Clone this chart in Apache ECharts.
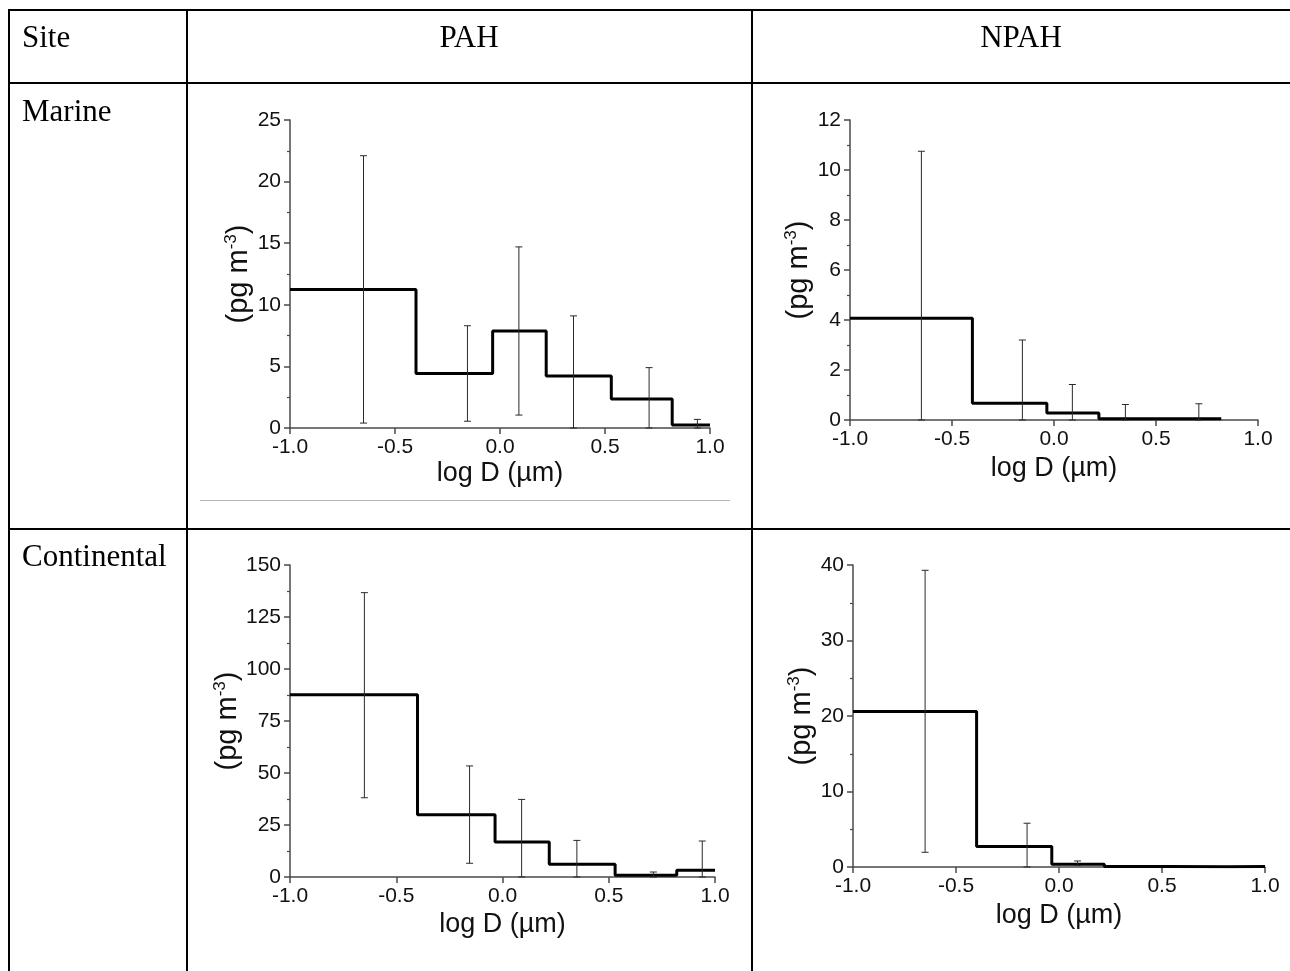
<!DOCTYPE html>
<html>
<head>
<meta charset="utf-8">
<script src="https://cdn.jsdelivr.net/npm/echarts@6/dist/echarts.min.js"></script>
<style>
html,body{margin:0;padding:0;background:#fff;}
#c{width:1290px;height:971px;}
</style>
</head>
<body>
<div id="c"></div>
<script>
// ---- data ----
const binEdges = [-1.0, -0.4, -0.035, 0.22, 0.53, 0.82, 1.0];
const errorBarX = [-0.65, -0.155, 0.09, 0.35, 0.71, 0.94];
const xTickLabels = ['-1.0', '-0.5', '0.0', '0.5', '1.0'];

const marinePAH      = [11.25, 4.42, 7.87, 4.23, 2.35, 0.25];
const marinePAHHigh  = [22.1, 8.3, 14.7, 9.1, 4.9, 0.7];
const marinePAHLow   = [0.4, 0.55, 1.05, 0, 0, 0];

const marineNPAH     = [4.07, 0.67, 0.28, 0.05, 0.05, null];
const marineNPAHHigh = [10.75, 3.2, 1.42, 0.62, 0.65, null];
const marineNPAHLow  = [0, 0, 0, 0, 0, null];

const contPAH        = [87.6, 29.9, 16.8, 6.1, 0.8, 3.2];
const contPAHHigh    = [136.7, 53.4, 37.3, 17.6, 2.4, 17.3];
const contPAHLow     = [38.1, 6.6, 0, 0, 0, 0];

const contNPAH       = [20.6, 2.7, 0.35, 0.05, 0.03, 0.05];
const contNPAHHigh   = [39.3, 5.8, 0.8, null, null, null];
const contNPAHLow    = [1.95, 0, 0.2, null, null, null];

const yMax      = [25, 12, 150, 40];
const yInterval = [5, 2, 25, 10];

const headers = ['Site', 'PAH', 'NPAH'];
const siteNames = ['Marine', 'Continental'];

// ---- layout ----
const panels = [
  {v: marinePAH,  hi: marinePAHHigh,  lo: marinePAHLow,  grid:{left:290, top:120, width:420, height:308}, nameGap:35, xNameGap:32},
  {v: marineNPAH, hi: marineNPAHHigh, lo: marineNPAHLow, grid:{left:850, top:120, width:408, height:300}, nameGap:32, xNameGap:35},
  {v: contPAH,    hi: contPAHHigh,    lo: contPAHLow,    grid:{left:290, top:565, width:425, height:312}, nameGap:42, xNameGap:34},
  {v: contNPAH,   hi: contNPAHHigh,   lo: contNPAHLow,   grid:{left:853, top:565, width:412, height:302}, nameGap:35, xNameGap:35}
];

const SANS = 'Liberation Sans, Arial, sans-serif';
const SERIF = 'Liberation Serif, Times New Roman, serif';
const axisColor = '#4a4a4a';
const textColor = '#111';

function stepPoints(values) {
  const pts = [];
  let last = -1;
  values.forEach((v, i) => { if (v != null) { pts.push([binEdges[i], v]); last = i; } });
  pts.push([binEdges[last + 1], values[last]]);
  return pts;
}

const grids = [], xAxes = [], yAxes = [], series = [];
panels.forEach((p, i) => {
  grids.push(Object.assign({}, p.grid));
  xAxes.push({
    type: 'value', gridIndex: i, min: -1, max: 1, interval: 0.5,
    name: 'log D (µm)', nameLocation: 'middle', nameGap: p.xNameGap,
    nameTextStyle: {fontFamily: SANS, fontSize: 27, color: textColor},
    axisLine: {onZero: false, lineStyle: {color: axisColor, width: 1.5}},
    axisTick: {show: true, length: 6, lineStyle: {color: axisColor, width: 1.5}},
    splitLine: {show: false},
    axisLabel: {fontFamily: SANS, fontSize: 21, color: textColor, margin: 9,
      formatter: v => xTickLabels[Math.round((v + 1) / 0.5)]}
  });
  yAxes.push({
    type: 'value', gridIndex: i, min: 0, max: yMax[i], interval: yInterval[i],
    name: '{t|(pg m}{s|-3}{t|)}', nameLocation: 'middle', nameGap: p.nameGap,
    nameTextStyle: {fontFamily: SANS, fontSize: 29, color: textColor,
      rich: {t: {fontFamily: SANS, fontSize: 29, color: textColor, lineHeight: 32},
             s: {fontFamily: SANS, fontSize: 17, color: textColor, verticalAlign: 'top', lineHeight: 16}}},
    axisLine: {show: true, onZero: false, lineStyle: {color: axisColor, width: 1.5}},
    axisTick: {show: true, length: 6, lineStyle: {color: axisColor, width: 1.5}},
    minorTick: {show: true, splitNumber: 2, length: 3, lineStyle: {color: axisColor, width: 1.2}},
    splitLine: {show: false},
    axisLabel: {fontFamily: SANS, fontSize: 21, color: textColor, margin: 9}
  });
  series.push({
    type: 'line', xAxisIndex: i, yAxisIndex: i, step: 'end', symbol: 'none',
    data: stepPoints(p.v), lineStyle: {color: '#000', width: 3}, z: 3, silent: true
  });
  const eb = [];
  errorBarX.forEach((x, j) => { if (p.hi[j] != null) eb.push([x, p.lo[j], p.hi[j]]); });
  series.push({
    type: 'custom', xAxisIndex: i, yAxisIndex: i, data: eb, z: 4, silent: true,
    encode: {x: 0, y: [1, 2]},
    renderItem: (params, api) => {
      const x = api.value(0);
      const lo = api.coord([x, api.value(1)]);
      const hi = api.coord([x, api.value(2)]);
      const hw = 3.5;
      const st = {stroke: '#2a2a2a', lineWidth: 1};
      return {type: 'group', children: [
        {type: 'line', shape: {x1: lo[0], y1: lo[1], x2: hi[0], y2: hi[1]}, style: st},
        {type: 'line', shape: {x1: hi[0] - hw, y1: hi[1], x2: hi[0] + hw, y2: hi[1]}, style: st},
        {type: 'line', shape: {x1: lo[0] - hw, y1: lo[1], x2: lo[0] + hw, y2: lo[1]}, style: st}
      ]};
    }
  });
});

// ---- table frame & text ----
const lineStyle = {stroke: '#000', lineWidth: 2};
const graphic = [
  {type: 'line', shape: {x1: 8, y1: 10, x2: 1290, y2: 10}, style: lineStyle},
  {type: 'line', shape: {x1: 8, y1: 83, x2: 1290, y2: 83}, style: lineStyle},
  {type: 'line', shape: {x1: 8, y1: 529, x2: 1290, y2: 529}, style: lineStyle},
  {type: 'line', shape: {x1: 9, y1: 9, x2: 9, y2: 971}, style: lineStyle},
  {type: 'line', shape: {x1: 187, y1: 9, x2: 187, y2: 971}, style: lineStyle},
  {type: 'line', shape: {x1: 752, y1: 9, x2: 752, y2: 971}, style: lineStyle},
  {type: 'line', shape: {x1: 200, y1: 500.5, x2: 730, y2: 500.5}, style: {stroke: '#b4b4b4', lineWidth: 1}},
  {type: 'text', x: 22, y: 39, style: {text: headers[0], font: '31px ' + SERIF, fill: '#000', verticalAlign: 'middle'}},
  {type: 'text', x: 469, y: 39, style: {text: headers[1], font: '31px ' + SERIF, fill: '#000', align: 'center', verticalAlign: 'middle'}},
  {type: 'text', x: 1021, y: 39, style: {text: headers[2], font: '31px ' + SERIF, fill: '#000', align: 'center', verticalAlign: 'middle'}},
  {type: 'text', x: 22, y: 113, style: {text: siteNames[0], font: '31px ' + SERIF, fill: '#000', verticalAlign: 'middle'}},
  {type: 'text', x: 22, y: 558, style: {text: siteNames[1], font: '31px ' + SERIF, fill: '#000', verticalAlign: 'middle'}}
];

const chart = echarts.init(document.getElementById('c'), null, {renderer: 'canvas'});
chart.setOption({
  backgroundColor: '#fff',
  animation: false,
  grid: grids,
  xAxis: xAxes,
  yAxis: yAxes,
  series: series,
  graphic: graphic
});
</script>
</body>
</html>
